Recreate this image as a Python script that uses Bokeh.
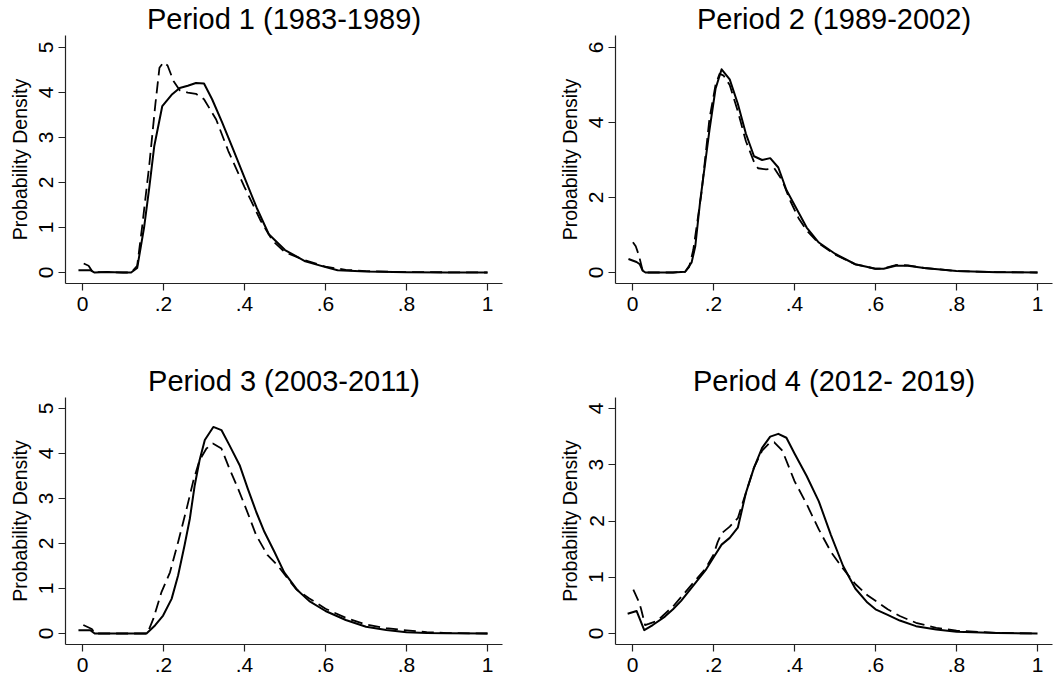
from bokeh.plotting import figure
from bokeh.layouts import column, row
from bokeh.models import FixedTicker, Range1d
from bokeh.embed import file_html
from bokeh.resources import INLINE

FONT = "Liberation Sans"

titles = ["Period 1 (1983-1989)", "Period 2 (1989-2002)",
          "Period 3 (2003-2011)", "Period 4 (2012- 2019)"]
x_ticks = [0, 0.2, 0.4, 0.6, 0.8, 1.0]
x_tick_labels = ["0", ".2", ".4", ".6", ".8", "1"]
y_label = "Probability Density"

# Period 1
p1_solid_x = [-0.01, 0.02, 0.03, 0.06, 0.10, 0.12, 0.135, 0.152, 0.165, 0.177, 0.197, 0.22, 0.24, 0.26, 0.28, 0.30, 0.32, 0.345, 0.37, 0.40, 0.43, 0.46, 0.50, 0.55, 0.60, 0.63, 0.70, 0.80, 0.90, 1.0]
p1_solid_y = [0.05, 0.05, 0.0, 0.01, 0.0, 0.0, 0.1, 1.0, 1.9, 2.8, 3.7, 3.95, 4.1, 4.15, 4.21, 4.2, 3.85, 3.33, 2.78, 2.11, 1.44, 0.85, 0.5, 0.25, 0.12, 0.05, 0.02, 0.005, 0.0, 0.0]
p1_dash_x = [0.003, 0.015, 0.025, 0.06, 0.10, 0.12, 0.135, 0.147, 0.165, 0.18, 0.19, 0.20, 0.21, 0.225, 0.24, 0.26, 0.28, 0.30, 0.33, 0.36, 0.40, 0.44, 0.47, 0.50, 0.55, 0.60, 0.65, 0.70, 0.80, 1.0]
p1_dash_y = [0.2, 0.15, 0.01, 0.01, 0.0, 0.0, 0.15, 1.0, 2.4, 3.75, 4.55, 4.67, 4.6, 4.25, 4.05, 4.0, 3.97, 3.85, 3.4, 2.7, 1.9, 1.15, 0.7, 0.45, 0.27, 0.13, 0.06, 0.03, 0.01, 0.0]

# Period 2
p2_solid_x = [-0.01, 0.01, 0.018, 0.025, 0.032, 0.06, 0.10, 0.13, 0.146, 0.155, 0.167, 0.19, 0.205, 0.22, 0.24, 0.26, 0.28, 0.30, 0.32, 0.34, 0.36, 0.38, 0.41, 0.43, 0.46, 0.50, 0.55, 0.60, 0.62, 0.65, 0.68, 0.72, 0.80, 0.90, 1.0]
p2_solid_y = [0.36, 0.28, 0.22, 0.05, 0.0, 0.0, 0.0, 0.02, 0.27, 0.7, 1.9, 3.8, 4.9, 5.42, 5.15, 4.5, 3.7, 3.1, 3.0, 3.05, 2.8, 2.2, 1.6, 1.2, 0.8, 0.5, 0.22, 0.1, 0.1, 0.18, 0.18, 0.12, 0.04, 0.01, 0.0]
p2_dash_x = [0.001, 0.008, 0.016, 0.025, 0.032, 0.06, 0.10, 0.13, 0.14, 0.15, 0.17, 0.19, 0.205, 0.215, 0.225, 0.24, 0.26, 0.28, 0.30, 0.31, 0.33, 0.35, 0.37, 0.39, 0.41, 0.43, 0.46, 0.50, 0.55, 0.60, 0.62, 0.65, 0.68, 0.72, 0.80, 0.90, 1.0]
p2_dash_y = [0.81, 0.7, 0.45, 0.05, 0.0, 0.0, 0.0, 0.02, 0.15, 0.6, 2.1, 4.1, 5.0, 5.3, 5.25, 5.0, 4.3, 3.5, 2.95, 2.78, 2.75, 2.78, 2.45, 1.9, 1.45, 1.12, 0.78, 0.48, 0.22, 0.1, 0.11, 0.2, 0.19, 0.12, 0.04, 0.01, 0.0]

# Period 3
p3_solid_x = [-0.01, 0.02, 0.03, 0.06, 0.10, 0.158, 0.179, 0.199, 0.22, 0.236, 0.252, 0.265, 0.277, 0.289, 0.302, 0.323, 0.343, 0.363, 0.388, 0.408, 0.429, 0.449, 0.474, 0.498, 0.531, 0.56, 0.60, 0.65, 0.70, 0.75, 0.80, 0.85, 0.90, 1.0]
p3_solid_y = [0.07, 0.07, 0.0, 0.0, 0.0, 0.0, 0.18, 0.4, 0.77, 1.29, 1.96, 2.55, 3.29, 3.85, 4.3, 4.59, 4.52, 4.18, 3.74, 3.22, 2.7, 2.26, 1.81, 1.36, 0.96, 0.72, 0.5, 0.3, 0.15, 0.08, 0.03, 0.01, 0.005, 0.0]
p3_dash_x = [0.002, 0.023, 0.031, 0.06, 0.10, 0.16, 0.175, 0.195, 0.216, 0.236, 0.257, 0.273, 0.289, 0.306, 0.322, 0.343, 0.363, 0.384, 0.404, 0.429, 0.457, 0.482, 0.507, 0.527, 0.56, 0.60, 0.65, 0.70, 0.75, 0.80, 0.85, 0.90, 1.0]
p3_dash_y = [0.19, 0.1, 0.0, 0.0, 0.0, 0.0, 0.33, 0.92, 1.36, 2.03, 2.77, 3.37, 3.85, 4.11, 4.22, 4.11, 3.66, 3.22, 2.77, 2.18, 1.74, 1.51, 1.22, 0.99, 0.78, 0.55, 0.35, 0.2, 0.12, 0.07, 0.03, 0.01, 0.0]

# Period 4
p4_solid_x = [-0.012, 0.01, 0.029, 0.05, 0.08, 0.10, 0.12, 0.15, 0.18, 0.20, 0.22, 0.24, 0.26, 0.28, 0.30, 0.32, 0.34, 0.36, 0.38, 0.40, 0.43, 0.46, 0.49, 0.52, 0.55, 0.58, 0.60, 0.63, 0.66, 0.70, 0.75, 0.80, 0.90, 1.0]
p4_solid_y = [0.35, 0.4, 0.06, 0.15, 0.3, 0.43, 0.58, 0.85, 1.12, 1.35, 1.58, 1.7, 1.88, 2.5, 2.95, 3.3, 3.5, 3.55, 3.48, 3.2, 2.8, 2.35, 1.75, 1.2, 0.8, 0.55, 0.43, 0.33, 0.23, 0.13, 0.07, 0.03, 0.01, 0.0]
p4_dash_x = [0.002, 0.016, 0.021, 0.031, 0.04, 0.06, 0.10, 0.15, 0.18, 0.20, 0.21, 0.22, 0.24, 0.26, 0.28, 0.30, 0.32, 0.34, 0.35, 0.37, 0.40, 0.43, 0.46, 0.49, 0.52, 0.55, 0.58, 0.60, 0.63, 0.66, 0.70, 0.75, 0.80, 0.90, 1.0]
p4_dash_y = [0.78, 0.56, 0.44, 0.15, 0.17, 0.22, 0.48, 0.9, 1.15, 1.4, 1.62, 1.78, 1.9, 2.05, 2.5, 2.95, 3.25, 3.4, 3.4, 3.25, 2.71, 2.3, 1.85, 1.45, 1.15, 0.88, 0.68, 0.58, 0.43, 0.31, 0.19, 0.1, 0.05, 0.01, 0.0]

y_ticks = [[0, 1, 2, 3, 4, 5], [0, 2, 4, 6], [0, 1, 2, 3, 4, 5], [0, 1, 2, 3, 4]]
y_ranges = [(-0.244, 5.267), (-0.293, 6.32), (-0.244, 5.244), (-0.196, 4.196)]


def make(i, sx, sy, dx, dy, width, height, bl, bt, bb, br):
    p = figure(width=width, height=height, output_backend="svg", toolbar_location=None,
               x_range=Range1d(-0.042, 1.037), y_range=Range1d(*y_ranges[i]),
               min_border_left=bl, min_border_top=bt, min_border_bottom=bb, min_border_right=br,
               title=titles[i])
    p.title.text_font = FONT
    p.title.text_font_size = "29px"
    p.title.text_font_style = "normal"
    p.title.text_color = "black"
    p.title.align = "center"
    p.title.standoff = 1
    p.outline_line_color = None
    p.xgrid.visible = False
    p.ygrid.visible = False
    p.background_fill_color = "white"
    p.border_fill_color = "white"
    for ax in (p.xaxis[0], p.yaxis[0]):
        ax.axis_line_color = "#222222"
        ax.axis_line_width = 1.2
        ax.major_tick_line_color = "#222222"
        ax.major_tick_line_width = 1.2
        ax.major_tick_out = 7
        ax.major_tick_in = 0
        ax.minor_tick_line_color = None
        ax.major_label_text_font = FONT
        ax.major_label_text_font_size = "21px"
        ax.major_label_text_color = "black"
    p.xaxis.ticker = FixedTicker(ticks=x_ticks)
    p.xaxis.major_label_overrides = {t: l for t, l in zip(x_ticks, x_tick_labels)}
    p.xaxis.major_label_standoff = 6
    p.yaxis.ticker = FixedTicker(ticks=y_ticks[i])
    p.yaxis.major_label_orientation = "vertical"
    p.yaxis.major_label_standoff = 5
    p.yaxis.axis_label = y_label
    p.yaxis.axis_label_text_font = FONT
    p.yaxis.axis_label_text_font_size = "19.5px"
    p.yaxis.axis_label_text_font_style = "normal"
    p.yaxis.axis_label_text_color = "black"
    p.yaxis.axis_label_standoff = 6
    p.line(sx, sy, line_color="black", line_width=2, line_join="round")
    p.line(dx, dy, line_color="black", line_width=1.8, line_dash="12 6", line_join="round")
    return p


f1 = make(0, p1_solid_x, p1_solid_y, p1_dash_x, p1_dash_y, 530, 340, 65, 35, 57, 28)
f2 = make(1, p2_solid_x, p2_solid_y, p2_dash_x, p2_dash_y, 523, 340, 85, 35, 57, 1)
f3 = make(2, p3_solid_x, p3_solid_y, p3_dash_x, p3_dash_y, 530, 341, 65, 57, 37, 28)
f4 = make(3, p4_solid_x, p4_solid_y, p4_dash_x, p4_dash_y, 523, 341, 85, 57, 37, 1)

layout = column(row(f1, f2), row(f3, f4))
open("out.html", "w").write(file_html(layout, INLINE))
